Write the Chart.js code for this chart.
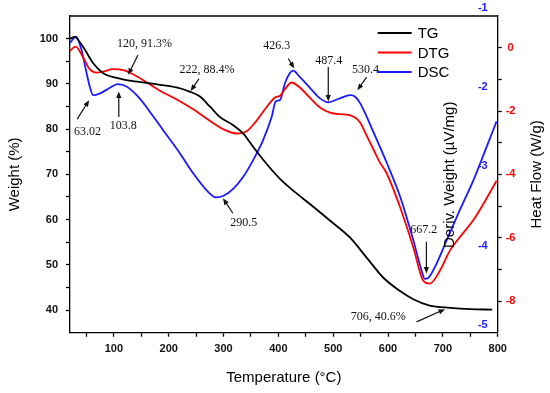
<!doctype html>
<html>
<head>
<meta charset="utf-8">
<title>TG / DTG / DSC</title>
<script src="https://cdn.jsdelivr.net/npm/chart.js@4"></script>
<style>
  html, body { margin: 0; padding: 0; background: #fff; }
  #wrap { width: 550px; height: 393px; }
</style>
</head>
<body>
<div id="wrap"><canvas id="thermo" width="550" height="393"></canvas></div>
<script>
// TG curve: temperature (°C) vs weight (%)
const tgTemp = [20, 29, 35, 47, 62, 80, 105, 129, 160, 184, 214, 238, 257, 275, 293, 317, 336, 354, 378, 403, 427, 457, 494, 530, 561, 591, 622, 646, 676, 713, 750, 790];
const tgWeight = [100.0, 100.4, 99.7, 97.6, 94.6, 92.4, 91.3, 90.7, 90.2, 89.8, 89.2, 88.3, 87.2, 85.0, 82.7, 80.9, 79.0, 76.1, 72.4, 69.0, 66.4, 63.5, 59.8, 56.1, 51.6, 47.2, 44.2, 42.4, 41.0, 40.5, 40.2, 40.1];

// DTG curve: deriv. weight (µV/mg)
const dtgTemp = [20, 30, 44, 56, 68, 80, 98, 117, 135, 160, 184, 214, 244, 275, 299, 324, 342, 360, 378, 394, 403, 412, 424, 439, 457, 476, 494, 512, 530, 549, 561, 573, 585, 597, 622, 646, 664, 676, 695, 713, 731, 755, 774, 798];
const dtgDeriv = [-0.10, 0.03, -0.31, -0.68, -0.79, -0.76, -0.68, -0.71, -0.84, -1.10, -1.36, -1.63, -1.94, -2.31, -2.57, -2.71, -2.64, -2.31, -1.89, -1.57, -1.52, -1.31, -1.10, -1.26, -1.57, -1.89, -2.05, -2.10, -2.13, -2.36, -2.78, -3.20, -3.62, -3.95, -5.04, -6.30, -7.35, -7.45, -7.03, -6.40, -5.98, -5.46, -4.93, -4.20];

// DSC curve: heat flow (W/g)
const dscTemp = [20, 31, 41, 49, 56, 62, 74, 92, 107, 123, 147, 172, 196, 220, 245, 269, 286, 300, 318, 336, 354, 372, 388, 395, 403, 412, 421, 427, 439, 458, 476, 491, 512, 531, 540, 549, 561, 573, 585, 598, 622, 646, 661, 667, 673, 689, 707, 731, 756, 780, 798];
const dscHeat = [-1.44, -1.36, -1.53, -1.78, -1.99, -2.10, -2.08, -2.01, -1.96, -1.99, -2.14, -2.37, -2.60, -2.83, -3.09, -3.30, -3.39, -3.37, -3.28, -3.13, -2.92, -2.67, -2.37, -2.18, -2.16, -1.95, -1.82, -1.79, -1.87, -2.01, -2.14, -2.19, -2.14, -2.10, -2.12, -2.20, -2.37, -2.56, -2.75, -2.96, -3.38, -3.93, -4.31, -4.42, -4.41, -4.22, -3.93, -3.55, -3.17, -2.75, -2.43];

// tick values of the two right axes
const dtgTicks = [-8, -7, -6, -5, -4, -3, -2, -1, 0];
const dscTicks = [-5, -4, -3, -2, -1];

// peak labels, in (temperature, weight %) coordinates: text position, arrow start, arrow tip
const notes = [
  { text: '120, 91.3%', at: [156, 98.8], from: [144, 96.4], to: [126, 92.0] },
  { text: '222, 88.4%', at: [270, 93.1], from: [255, 91.1], to: [240, 88.4] },
  { text: '63.02',      at: [52, 79.4],  from: [33, 82.2],  to: [55, 86.4] },
  { text: '103.8',      at: [117, 80.8], from: [109, 82.7], to: [109, 88.3] },
  { text: '290.5',      at: [337, 59.2], from: [317, 61.4], to: [299, 64.7] },
  { text: '426.3',      at: [397, 98.4], from: [418, 95.6], to: [429, 93.4] },
  { text: '487.4',      at: [492, 95.1], from: [491, 93.7], to: [491, 86.1] },
  { text: '530.4',      at: [559, 93.1], from: [561, 91.5], to: [544, 88.6] },
  { text: '667.2',      at: [665, 57.7], from: [670, 55.1], to: [670, 48.1] },
  { text: '706, 40.6%', at: [582, 38.5], from: [652, 37.4], to: [704, 40.2] }
];

const toPoints = (xs, ys) => xs.map((x, i) => ({ x: x, y: ys[i] }));

Chart.defaults.font.family = '"Liberation Sans", Arial, sans-serif';
Chart.defaults.color = '#000';

function arrow(ctx, x1, y1, x2, y2) {
  const a = Math.atan2(y2 - y1, x2 - x1);
  ctx.beginPath();
  ctx.moveTo(x1, y1);
  ctx.lineTo(x2 - 4 * Math.cos(a), y2 - 4 * Math.sin(a));
  ctx.stroke();
  ctx.beginPath();
  ctx.moveTo(x2, y2);
  ctx.lineTo(x2 - 7 * Math.cos(a - 0.38), y2 - 7 * Math.sin(a - 0.38));
  ctx.lineTo(x2 - 7 * Math.cos(a + 0.38), y2 - 7 * Math.sin(a + 0.38));
  ctx.closePath();
  ctx.fill();
}

// rotated text reading bottom to top
function upText(ctx, text, x, y) {
  ctx.save();
  ctx.translate(x, y);
  ctx.rotate(-Math.PI / 2);
  ctx.textAlign = 'center';
  ctx.textBaseline = 'middle';
  ctx.fillText(text, 0, 0);
  ctx.restore();
}

// frame top, peak labels, legend and the right-hand axis titles
const extras = {
  id: 'extras',
  afterDraw(chart) {
    const { ctx, chartArea: area, scales } = chart;
    const px = v => scales.x.getPixelForValue(v);
    const py = v => scales.y.getPixelForValue(v);
    ctx.save();

    ctx.strokeStyle = '#000';
    ctx.lineWidth = 1.3;
    ctx.beginPath();
    ctx.moveTo(area.left, area.top);
    ctx.lineTo(area.right, area.top);
    ctx.stroke();

    ctx.font = '12px "Liberation Serif", "Times New Roman", serif';
    ctx.fillStyle = '#111';
    ctx.strokeStyle = '#111';
    ctx.lineWidth = 1.2;
    ctx.textAlign = 'center';
    ctx.textBaseline = 'middle';
    notes.forEach(n => {
      ctx.fillText(n.text, px(n.at[0]), py(n.at[1]));
      arrow(ctx, px(n.from[0]), py(n.from[1]), px(n.to[0]), py(n.to[1]));
    });

    // legend
    ctx.font = '15px "Liberation Sans", Arial, sans-serif';
    ctx.textAlign = 'left';
    chart.data.datasets.forEach((ds, i) => {
      const y = area.top + 17 + i * 19.5;
      ctx.strokeStyle = ds.borderColor;
      ctx.lineWidth = 1.8;
      ctx.beginPath();
      ctx.moveTo(area.right - 120, y);
      ctx.lineTo(area.right - 86, y);
      ctx.stroke();
      ctx.fillStyle = '#000';
      ctx.fillText(ds.label, area.right - 80, y + 1);
    });

    // Deriv. Weight title sits inside the plot, Heat Flow outside the right axis
    upText(ctx, 'Deriv. Weight (\u00b5V/mg)', px(713), py(69.9));
    upText(ctx, 'Heat Flow (W/g)', scales.y1.right - 13, (area.top + area.bottom) / 2);
    ctx.restore();
  }
};

const tickFont = { size: 11, weight: 'bold' };
const titleFont = { size: 15 };

new Chart(document.getElementById('thermo'), {
  type: 'line',
  data: {
    datasets: [
      { label: 'TG', data: toPoints(tgTemp, tgWeight), yAxisID: 'y', borderColor: '#000000' },
      { label: 'DTG', data: toPoints(dtgTemp, dtgDeriv), yAxisID: 'y1', borderColor: '#ff0000' },
      { label: 'DSC', data: toPoints(dscTemp, dscHeat), yAxisID: 'y2', borderColor: '#1a1aff' }
    ]
  },
  options: {
    responsive: false,
    animation: false,
    layout: { padding: { top: 16, left: 0, right: 0, bottom: 0 } },
    elements: {
      point: { radius: 0 },
      line: { borderWidth: 1.8, cubicInterpolationMode: 'monotone', fill: false }
    },
    plugins: { legend: { display: false }, tooltip: { enabled: false } },
    scales: {
      x: {
        type: 'linear',
        min: 20,
        max: 800,
        grid: { drawOnChartArea: false, tickLength: 4, tickColor: '#000', tickWidth: 1.3 },
        border: { color: '#000', width: 1.3 },
        ticks: {
          stepSize: 50,
          includeBounds: false,
          padding: 6,
          font: tickFont,
          color: '#111',
          maxRotation: 0,
          autoSkip: false,
          callback: v => (v % 100 === 0 ? v : '')
        },
        title: { display: true, text: 'Temperature (\u00b0C)', font: titleFont, padding: { top: 0, bottom: 6 } },
        afterFit: s => { s.height = 60.3; }
      },
      y: {
        position: 'left',
        min: 35,
        max: 105,
        grid: { drawOnChartArea: false, tickLength: 4, tickColor: '#000', tickWidth: 1.3 },
        border: { color: '#000', width: 1.3 },
        ticks: {
          stepSize: 5,
          padding: 8,
          font: tickFont,
          color: '#111',
          callback: v => (v % 10 === 0 ? v : '')
        },
        afterBuildTicks: s => { s.ticks = s.ticks.filter(t => t.value > 35 && t.value < 105); },
        title: { display: true, text: 'Weight (%)', font: titleFont, padding: { top: 6, bottom: 0 } },
        afterFit: s => { s.width = 70; }
      },
      y2: {
        position: 'right',
        weight: 0,
        min: -5.1,
        max: -1.1,
        grid: { display: false },
        border: { display: false },
        ticks: { mirror: true, padding: -10, font: tickFont, color: '#1a1aff' },
        afterBuildTicks: s => { s.ticks = dscTicks.map(v => ({ value: v })); },
        afterFit: s => { s.width = 0; }
      },
      y1: {
        position: 'right',
        weight: 1,
        min: -9,
        max: 1,
        grid: { drawOnChartArea: false, tickLength: 4, tickColor: '#000', tickWidth: 1.3 },
        border: { color: '#000', width: 1.3 },
        ticks: {
          padding: 4,
          crossAlign: 'center',
          font: tickFont,
          color: '#ff0000',
          callback: v => (v % 2 === 0 ? v : '')
        },
        afterBuildTicks: s => { s.ticks = dtgTicks.map(v => ({ value: v })); },
        afterFit: s => { s.width = 52.3; }
      }
    }
  },
  plugins: [extras]
});
</script>
</body>
</html>
